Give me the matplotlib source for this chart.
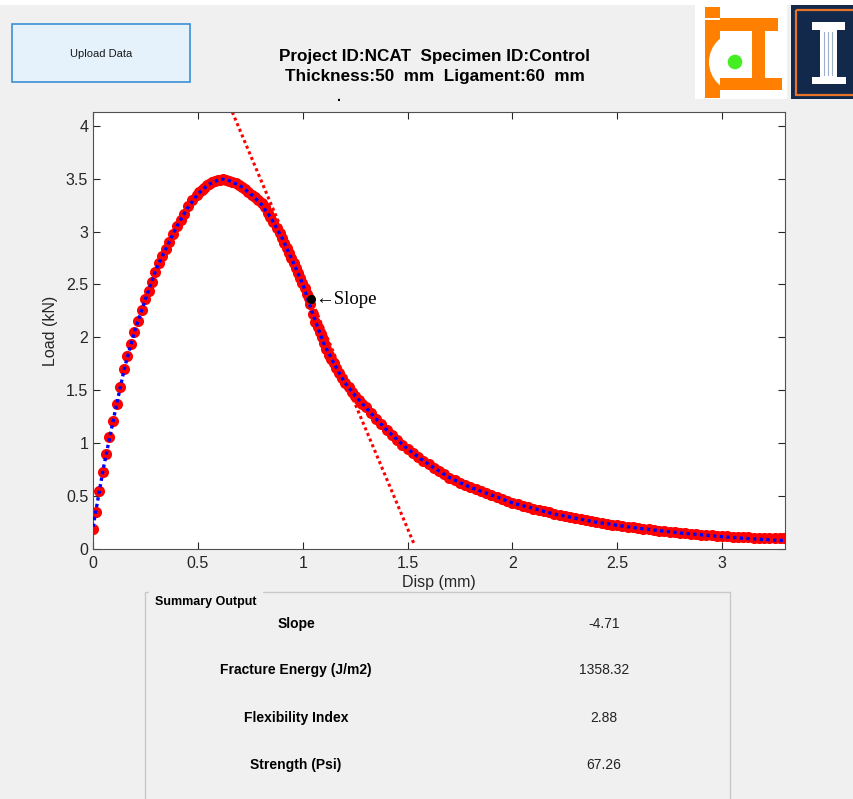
import matplotlib
matplotlib.use('Agg')
import matplotlib.pyplot as plt
from matplotlib.patches import Rectangle, Circle, Wedge

plt.rcParams['font.family'] = ['Liberation Sans', 'DejaVu Sans']

# measured load-displacement points
disp = [0.000, 0.013, 0.030, 0.046, 0.062, 0.076, 0.095, 0.113, 0.129, 0.148,
        0.164, 0.181, 0.197, 0.213, 0.232, 0.250, 0.266, 0.280, 0.296, 0.315,
        0.331, 0.347, 0.363, 0.382, 0.401, 0.419, 0.436, 0.455, 0.474, 0.495,
        0.505, 0.519, 0.530, 0.543, 0.555, 0.567, 0.580, 0.595, 0.608, 0.622,
        0.636, 0.650, 0.665, 0.680, 0.694, 0.710, 0.725, 0.740, 0.757, 0.772,
        0.788, 0.805, 0.820, 0.833, 0.845, 0.860, 0.877, 0.890, 0.901, 0.913,
        0.925, 0.935, 0.945, 0.957, 0.968, 0.978, 0.988, 0.998, 1.009, 1.020,
        1.028, 1.036, 1.048, 1.060, 1.072, 1.084, 1.092, 1.100, 1.112, 1.124,
        1.136, 1.148, 1.160, 1.171, 1.187, 1.203, 1.219, 1.235, 1.251, 1.267,
        1.283, 1.300, 1.325, 1.350, 1.375, 1.400, 1.425, 1.450, 1.475, 1.500,
        1.525, 1.550, 1.575, 1.600, 1.625, 1.650, 1.675, 1.700, 1.725, 1.750,
        1.775, 1.800, 1.825, 1.850, 1.875, 1.900, 1.925, 1.950, 1.975, 2.000,
        2.025, 2.050, 2.075, 2.100, 2.125, 2.150, 2.175, 2.200, 2.225, 2.250,
        2.275, 2.300, 2.325, 2.350, 2.375, 2.400, 2.425, 2.450, 2.475, 2.500,
        2.525, 2.550, 2.575, 2.600, 2.625, 2.650, 2.675, 2.700, 2.725, 2.750,
        2.775, 2.800, 2.825, 2.850, 2.875, 2.900, 2.925, 2.950, 2.975, 3.000,
        3.025, 3.050, 3.075, 3.100, 3.125, 3.150, 3.175, 3.200, 3.225, 3.250,
        3.275, 3.295]
load = [0.186, 0.353, 0.548, 0.728, 0.898, 1.062, 1.210, 1.371, 1.532, 1.702,
        1.825, 1.939, 2.049, 2.159, 2.260, 2.358, 2.443, 2.528, 2.622, 2.700,
        2.770, 2.837, 2.906, 2.980, 3.054, 3.111, 3.165, 3.237, 3.300, 3.348,
        3.370, 3.395, 3.415, 3.436, 3.450, 3.468, 3.478, 3.489, 3.492, 3.496,
        3.488, 3.478, 3.470, 3.455, 3.440, 3.420, 3.400, 3.375, 3.350, 3.325,
        3.300, 3.270, 3.230, 3.180, 3.140, 3.090, 3.030, 2.985, 2.940, 2.890,
        2.840, 2.795, 2.750, 2.700, 2.655, 2.610, 2.560, 2.510, 2.465, 2.410,
        2.370, 2.320, 2.220, 2.150, 2.100, 2.055, 2.000, 1.945, 1.890, 1.835,
        1.795, 1.756, 1.710, 1.660, 1.615, 1.567, 1.527, 1.487, 1.447, 1.409,
        1.370, 1.340, 1.285, 1.230, 1.178, 1.125, 1.077, 1.030, 0.987, 0.945,
        0.907, 0.870, 0.835, 0.800, 0.767, 0.735, 0.705, 0.675, 0.648, 0.625,
        0.603, 0.583, 0.563, 0.545, 0.527, 0.510, 0.492, 0.475, 0.456, 0.438,
        0.423, 0.409, 0.395, 0.382, 0.369, 0.357, 0.345, 0.333, 0.322, 0.311,
        0.301, 0.291, 0.281, 0.272, 0.263, 0.255, 0.246, 0.239, 0.231, 0.224,
        0.217, 0.210, 0.204, 0.197, 0.191, 0.185, 0.180, 0.174, 0.169, 0.164,
        0.159, 0.154, 0.150, 0.145, 0.141, 0.137, 0.133, 0.129, 0.126, 0.122,
        0.119, 0.116, 0.113, 0.111, 0.109, 0.107, 0.105, 0.104, 0.103, 0.102,
        0.101, 0.100]

# smoothed fit curve
fit_disp = [0.00, 0.02, 0.05, 0.10, 0.15, 0.20, 0.25, 0.30, 0.35, 0.40,
            0.45, 0.50, 0.55, 0.60, 0.62, 0.65, 0.70, 0.75, 0.80, 0.85,
            0.90, 0.95, 1.00, 1.05, 1.10, 1.15, 1.20, 1.25, 1.30, 1.35,
            1.40, 1.50, 1.60, 1.70, 1.80, 1.90, 2.00, 2.20, 2.40, 2.60,
            2.80, 3.00, 3.15, 3.29]
fit_load = [0.21, 0.43, 0.77, 1.25, 1.71, 2.07, 2.36, 2.64, 2.85, 3.05,
            3.22, 3.355, 3.445, 3.49, 3.495, 3.48, 3.435, 3.36, 3.265, 3.125,
            2.945, 2.73, 2.505, 2.21, 1.945, 1.75, 1.575, 1.45, 1.34, 1.23,
            1.125, 0.945, 0.80, 0.675, 0.583, 0.51, 0.436, 0.33, 0.253, 0.196,
            0.152, 0.116, 0.095, 0.080]

slope_pt = (1.04, 2.36)
summary_labels = ['Slope', 'Fracture Energy (J/m2)', 'Flexibility Index', 'Strength (Psi)']
summary_values = ['-4.71', '1358.32', '2.88', '67.26']
slope = float(summary_values[0])

W, H = 854, 799
bg = '#f0f0f0'
fig = plt.figure(figsize=(W / 100, H / 100), dpi=100, facecolor=bg)

# pixel-space layer for the gui furniture
deco = fig.add_axes([0, 0, 1, 1], zorder=0)
deco.set_xlim(0, W)
deco.set_ylim(H, 0)
deco.axis('off')
deco.add_patch(Rectangle((0, 0), W, 5, facecolor='white', edgecolor='none'))

# upload button
deco.add_patch(Rectangle((12, 24), 178, 58, facecolor='#e5f1fb', edgecolor='#3c8fd6', lw=1.2))
deco.text(101, 54, 'Upload Data', ha='center', va='center', fontsize=8, color='#1a1a1a')

# header
deco.text(435, 56, 'Project ID:NCAT  Specimen ID:Control', ha='center', va='center',
          fontsize=12.3, fontweight='bold')
deco.text(435, 76, 'Thickness:50  mm  Ligament:60  mm', ha='center', va='center',
          fontsize=12.3, fontweight='bold')
deco.text(339, 97, '.', ha='center', va='center', fontsize=10, fontweight='bold')

# ICT logo
orange = '#ff8000'
deco.add_patch(Rectangle((695, 5), 92, 94, facecolor='white', edgecolor='none'))
deco.add_patch(Rectangle((705, 7), 15, 91, facecolor=orange, edgecolor='none'))
deco.add_patch(Rectangle((705, 18), 15, 2, facecolor='white', edgecolor='none'))
deco.add_patch(Wedge((739, 62), 30, 90, 270, facecolor='white', edgecolor='none'))
deco.add_patch(Rectangle((738, 32), 15, 60, facecolor='white', edgecolor='none'))
deco.add_patch(Rectangle((720, 18), 58, 13, facecolor=orange, edgecolor='none'))
deco.add_patch(Rectangle((752, 31), 13, 47, facecolor=orange, edgecolor='none'))
deco.add_patch(Rectangle((720, 78), 62, 12, facecolor=orange, edgecolor='none'))
deco.add_patch(Circle((735, 62), 7.3, facecolor='#44ee22', edgecolor='none'))

# Illinois logo
navy = '#13294b'
deco.add_patch(Rectangle((791, 5), 63, 94, facecolor=navy, edgecolor='none'))
deco.add_patch(Rectangle((796, 10), 62, 85, facecolor='none', edgecolor='#e8742a', lw=1.6))
deco.add_patch(Rectangle((812, 22), 33, 8, facecolor='white', edgecolor='none'))
deco.add_patch(Rectangle((820, 30), 17, 47, facecolor='white', edgecolor='none'))
deco.add_patch(Rectangle((812, 77), 34, 7, facecolor='white', edgecolor='none'))
for fx in (824, 828, 832):
    deco.plot([fx, fx], [32, 75], color='#9db0c8', lw=0.8)

# summary panel
deco.add_patch(Rectangle((145, 592), 585, 220, facecolor='none', edgecolor='#c8c8c8', lw=1.0))
deco.text(155, 602, 'Summary Output', ha='left', va='center', fontsize=9,
          fontweight='bold', backgroundcolor=bg)
row_y = [624, 670, 718, 765]
for lab, val, yy in zip(summary_labels, summary_values, row_y):
    deco.text(296, yy, lab, ha='center', va='center', fontsize=10, fontweight='bold')
    deco.text(604, yy, val, ha='center', va='center', fontsize=10, color='#222222')

# main plot
ax = fig.add_axes([93 / W, 1 - 549 / H, 692 / W, 437 / H], zorder=1)
ax.set_facecolor('white')

ymax = 4.13
t0 = slope_pt[0] + (ymax - slope_pt[1]) / slope
t1 = 1.53
ax.plot([t0, t1], [slope_pt[1] + slope * (t0 - slope_pt[0]), slope_pt[1] + slope * (t1 - slope_pt[0])],
        color='red', lw=2.2, ls=(0, (1, 1)), zorder=2)
ax.plot(disp, load, 'o', color='red', ms=8, mew=0, zorder=3)
ax.plot(fit_disp, fit_load, color='blue', lw=2.4, ls=(0, (1, 1)), zorder=4)
ax.plot(*slope_pt, 'o', color='black', ms=5.5, zorder=5)
ax.text(slope_pt[0] + 0.02, slope_pt[1], '\u2190Slope', ha='left', va='center',
        fontsize=13.5, family=['Liberation Serif', 'DejaVu Serif'], zorder=6)

ax.set_xlim(0, 3.3)
ax.set_ylim(0, ymax)
ax.set_xticks([0, 0.5, 1, 1.5, 2, 2.5, 3])
ax.set_xticklabels(['0', '0.5', '1', '1.5', '2', '2.5', '3'])
ax.set_yticks([0, 0.5, 1, 1.5, 2, 2.5, 3, 3.5, 4])
ax.set_yticklabels(['0', '0.5', '1', '1.5', '2', '2.5', '3', '3.5', '4'])
ax.tick_params(direction='in', length=5, width=0.8, top=True, right=True,
               labelsize=11.5, colors='#262626')
ax.tick_params(axis='x', pad=5)
for s in ax.spines.values():
    s.set_color('#505050')
    s.set_linewidth(0.8)
ax.set_xlabel('Disp (mm)', fontsize=11.5, color='#262626', labelpad=3)
ax.set_ylabel('Load (kN)', fontsize=11.5, color='#262626', labelpad=6)

fig.savefig('out.png', dpi=100, facecolor=bg)
